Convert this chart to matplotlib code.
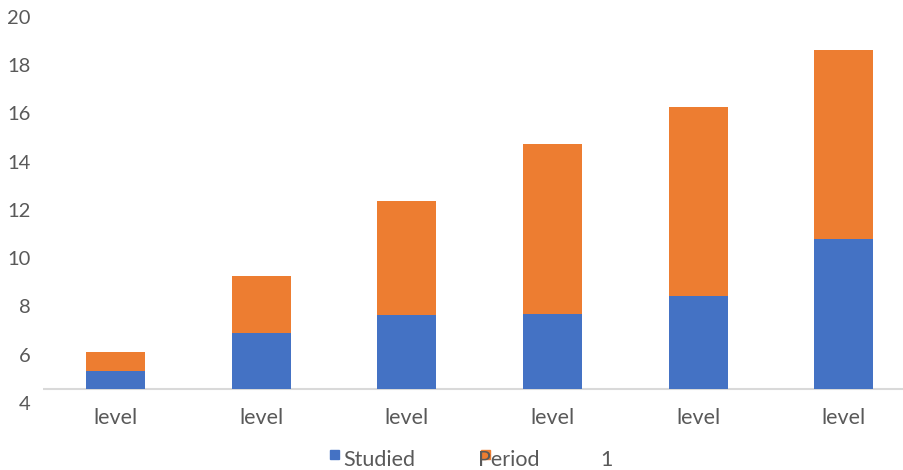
"""Stacked bar chart: studied vs period, per level."""

import matplotlib.pyplot as plt
from matplotlib.patches import Rectangle

categories = ["level", "level", "level", "level", "level", "level"]
# tops of each segment
studied_top = [5.33, 6.90, 7.65, 7.69, 8.44, 10.80]
period_top = [6.11, 9.26, 12.37, 14.74, 16.27, 18.63]
base = 4.58
y_ticks = [4, 6, 8, 10, 12, 14, 16, 18, 20]

BLUE = "#4472C4"
ORANGE = "#ED7D31"
TXT = "#595959"

plt.rcParams["font.family"] = ["Lato", "DejaVu Sans"]

W, H = 904, 470
fig = plt.figure(figsize=(W / 100, H / 100), dpi=100)
ax = fig.add_axes([43 / W, 67 / H, 1 - 43 / W, 393 / H])

x = list(range(len(categories)))
studied_h = [t - base for t in studied_top]
period_h = [p - s for p, s in zip(period_top, studied_top)]
ax.bar(x, studied_h, bottom=base, width=0.405, color=BLUE, zorder=2)
ax.bar(x, period_h, bottom=studied_top, width=0.405, color=ORANGE, zorder=2)
ax.axhline(base, color="#D9D9D9", lw=1.5, zorder=1)

ax.set_xlim(-0.5, 5.415)
ax.set_ylim(4, 20.29)
ax.set_yticks(y_ticks)
ax.set_yticklabels([str(v) for v in y_ticks])
ax.tick_params(axis="y", length=0, pad=9, labelsize=14.5, labelcolor=TXT)
ax.set_xticks([])
for xi, lab in zip(x, categories):
    ax.text(xi, base - 0.8, lab, ha="center", va="top", fontsize=15.5, color=TXT)
for s in ax.spines.values():
    s.set_visible(False)

# legend drawn by hand, series names split as in the source
fig.patches.append(Rectangle((330 / W, 1 - 459 / H), 9 / W, 9 / H,
                             transform=fig.transFigure, color=BLUE))
fig.patches.append(Rectangle((481 / W, 1 - 459 / H), 9 / W, 9 / H,
                             transform=fig.transFigure, color=ORANGE))
for px, lab in [(343, "Studied"), (478, "Period"), (600, "1")]:
    fig.text(px / W, 1 - 466 / H, lab, ha="left", va="baseline",
             fontsize=15.5, color=TXT, zorder=5)

fig.savefig("out.png", dpi=100)
